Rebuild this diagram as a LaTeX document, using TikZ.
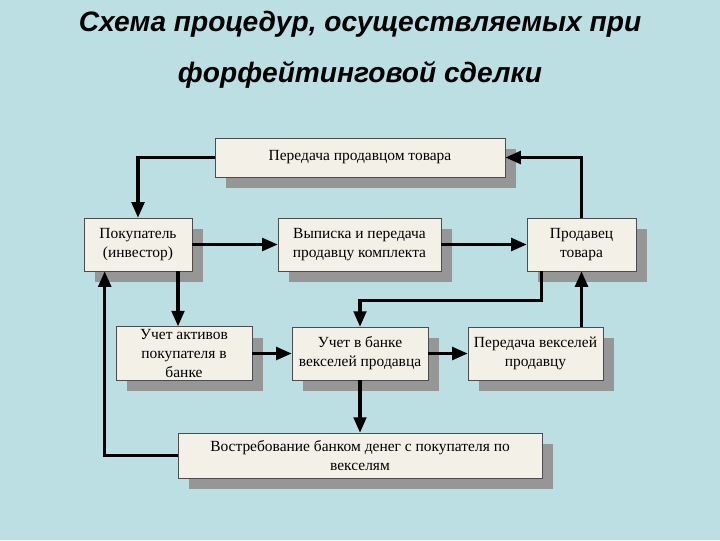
\documentclass[tikz,border=0pt]{standalone}
\usepackage{fontspec}
\setmainfont{Liberation Serif}
\newfontfamily\titlefont{Liberation Sans}
\usetikzlibrary{arrows.meta,shadows}
\definecolor{fsBack}{RGB}{188,223,228}
\definecolor{fsBox}{RGB}{242,240,231}
\definecolor{fsShade}{RGB}{150,150,150}

\begin{document}
\begin{tikzpicture}[x=0.025cm, y=-0.025cm,
    fsStyle/.style={draw=gray!60!black, line width=0.4pt, fill=fsBox, align=center, inner sep=2pt,
        font=\fontsize{11}{13.5}\selectfont,
        drop shadow={shadow xshift=7.8pt, shadow yshift=-7.8pt, fill=fsShade, opacity=1}},
    fsArrow/.style={-{Triangle[length=11pt,width=9pt]}, line width=2.2pt}]

    \fill[fsBack] (0,0) rectangle (720,540);

    \node[font=\titlefont\bfseries\itshape\fontsize{20}{36}\selectfont, align=center] (title) at (360,50)
        {Схема процедур, осуществляемых при\\форфейтинговой сделки};

    \node[fsStyle, minimum width=7.25cm, minimum height=0.975cm] (hand) at (360,157.5) {Передача продавцом товара};
    \node[fsStyle, minimum width=2.7cm, minimum height=1.325cm] (buyer) at (138,244.5) {Покупатель\\(инвестор)};
    \node[fsStyle, minimum width=4.075cm, minimum height=1.325cm] (issue) at (359.5,244.5) {Выписка и передача\\продавцу комплекта};
    \node[fsStyle, minimum width=2.725cm, minimum height=1.325cm] (seller) at (581.5,244.5) {Продавец\\товара};
    \node[fsStyle, minimum width=3.4cm, minimum height=1.325cm] (assets) at (184,353.5) {Учет активов\\покупателя в\\банке};
    \node[fsStyle, minimum width=3.4cm, minimum height=1.325cm] (discount) at (360,353.5) {Учет в банке\\векселей продавца};
    \node[fsStyle, minimum width=3.375cm, minimum height=1.325cm] (notes) at (535.5,353.5) {Передача векселей\\продавцу};
    \node[fsStyle, minimum width=9.1cm, minimum height=1.125cm] (claim) at (360,455.5) {Востребование банком денег с покупателя по\\векселям};

    \draw[fsArrow] (hand.west) -| (buyer.north);
    \draw[fsArrow] (seller.north) |- (hand.east);
    \draw[fsArrow] (buyer.east) -- (issue.west);
    \draw[fsArrow] (issue.east) -- (seller.west);
    \draw[fsArrow] ([xshift=1cm]buyer.south) -- ([xshift=1cm]buyer.south |- assets.north);
    \draw[fsArrow] ([xshift=-1cm]seller.south) -- ++(0,29) -| (discount.north);
    \draw[fsArrow] (notes.north -| seller.south) -- (seller.south);
    \draw[fsArrow] (assets.east) -- (discount.west);
    \draw[fsArrow] (discount.east) -- (notes.west);
    \draw[fsArrow] (discount.south) -- (claim.north);
    \draw[fsArrow] (claim.west) -| ([xshift=0.525cm]buyer.south west);
\end{tikzpicture}
\end{document}
